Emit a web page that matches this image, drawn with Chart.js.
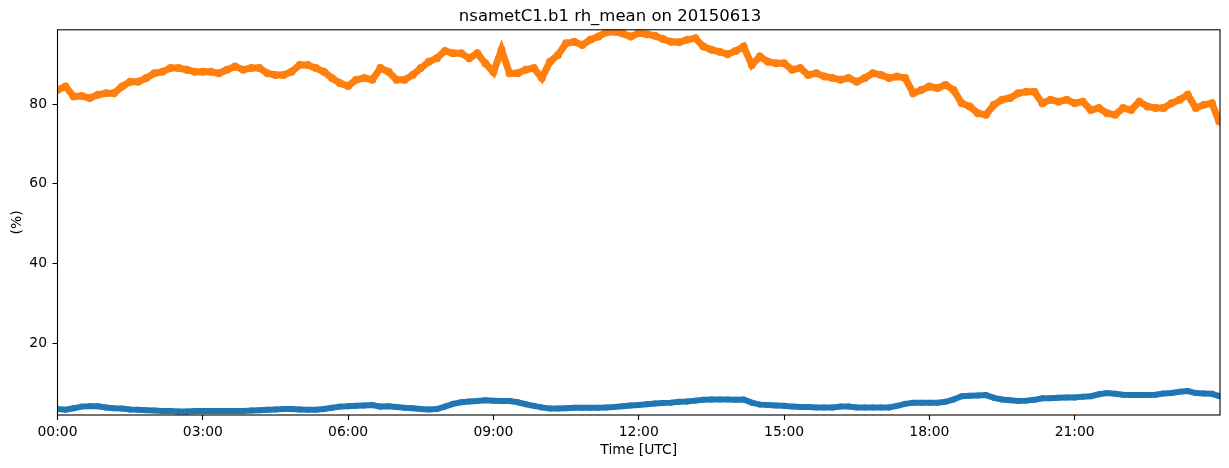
<!DOCTYPE html>
<html>
<head>
<meta charset="utf-8">
<script src="https://cdn.jsdelivr.net/npm/chart.js@4.4.1/dist/chart.umd.min.js"></script>
<style>
    body { margin: 0; background: #fff; }
    #wrap { width: 1229px; height: 468px; }
</style>
</head>
<body>
<div id="wrap"><canvas id="graficoRh"></canvas></div>
<script>
// rh_mean, one value every 10 minutes (last one at 23:59)
const rhOrange = [
    83.5, 84.4, 81.9, 82.0, 81.5, 82.3, 82.7, 82.7, 84.4, 85.6, 85.6, 86.5,
    87.7, 88.1, 89.0, 89.0, 88.6, 88.1, 88.1, 88.1, 87.7, 88.6, 89.4, 88.6,
    89.0, 89.0, 87.7, 87.3, 87.3, 88.1, 89.8, 89.8, 89.0, 88.1, 86.5, 85.2,
    84.5, 86.1, 86.5, 86.1, 89.0, 88.1, 86.1, 86.1, 87.3, 89.0, 90.6, 91.5,
    93.3, 92.7, 92.7, 91.5, 92.7, 90.2, 88.0, 93.6, 87.7, 87.7, 88.6, 89.0,
    86.5, 90.6, 92.3, 95.2, 95.6, 94.8, 96.1, 96.9, 98.0, 98.1, 97.7, 96.9,
    97.8, 97.5, 97.1, 96.3, 95.6, 95.5, 96.1, 96.5, 94.4, 93.6, 93.1, 92.5,
    93.3, 94.4, 89.8, 91.9, 90.6, 90.2, 90.2, 88.6, 89.0, 87.3, 87.7, 86.9,
    86.5, 86.1, 86.5, 85.6, 86.5, 87.7, 87.3, 86.5, 86.9, 86.5, 82.7, 83.5,
    84.4, 84.0, 84.8, 83.5, 80.2, 79.4, 77.7, 77.3, 79.8, 81.1, 81.5, 82.7,
    83.1, 83.1, 80.2, 81.1, 80.6, 81.1, 80.2, 80.6, 78.5, 79.0, 77.7, 77.3,
    79.0, 78.5, 80.6, 79.4, 79.0, 79.0, 80.2, 81.1, 82.3, 79.0, 79.8, 80.2,
    75.6
];
const rhBlue = [
    3.6, 3.4, 3.8, 4.2, 4.3, 4.3, 4.0, 3.8, 3.7, 3.5, 3.4, 3.3,
    3.2, 3.1, 3.1, 3.0, 3.0, 3.1, 3.1, 3.1, 3.1, 3.1, 3.1, 3.1,
    3.2, 3.3, 3.4, 3.5, 3.6, 3.6, 3.5, 3.4, 3.4, 3.6, 3.9, 4.2,
    4.3, 4.4, 4.5, 4.6, 4.2, 4.3, 4.1, 3.9, 3.8, 3.6, 3.5, 3.6,
    4.2, 4.9, 5.3, 5.5, 5.6, 5.8, 5.7, 5.6, 5.6, 5.3, 4.8, 4.4,
    4.0, 3.7, 3.7, 3.8, 3.9, 3.9, 3.9, 3.9, 4.0, 4.1, 4.3, 4.5,
    4.6, 4.8, 5.0, 5.1, 5.2, 5.4, 5.5, 5.7, 5.9, 6.0, 6.0, 6.0,
    5.9, 6.0, 5.2, 4.7, 4.6, 4.5, 4.4, 4.2, 4.1, 4.1, 4.0, 4.0,
    4.0, 4.2, 4.2, 4.0, 4.0, 4.0, 4.0, 4.0, 4.4, 4.9, 5.2, 5.2,
    5.2, 5.2, 5.4, 6.0, 6.8, 6.9, 7.0, 7.1, 6.4, 6.0, 5.8, 5.6,
    5.7, 5.9, 6.3, 6.3, 6.4, 6.5, 6.5, 6.7, 6.8, 7.3, 7.6, 7.4,
    7.2, 7.1, 7.1, 7.1, 7.2, 7.5, 7.6, 7.9, 8.1, 7.6, 7.5, 7.4,
    6.8
];
// minutes since 00:00
const minutos = rhOrange.map((_, i) => Math.min(i * 10, 1439));
const xTicks = [0, 180, 360, 540, 720, 900, 1080, 1260];
const yTicks = [20, 40, 60, 80];

function hhmm(m) {
    const h = Math.floor(m / 60), mm = m % 60;
    return String(h).padStart(2, '0') + ':' + String(mm).padStart(2, '0');
}

const fonte = 'DejaVu Sans';

// moldura preta dos quatro lados, como no matplotlib
const moldura = {
    id: 'moldura',
    afterDraw(chart) {
        const a = chart.chartArea, ctx = chart.ctx;
        ctx.save();
        ctx.strokeStyle = '#000';
        ctx.lineWidth = 1.1;
        ctx.strokeRect(a.left, a.top, a.right - a.left, a.bottom - a.top);
        ctx.restore();
    }
};

const ctx = document.getElementById('graficoRh').getContext('2d');
new Chart(ctx, {
    type: 'line',
    data: {
        datasets: [{
            label: 'rh_mean',
            data: minutos.map((m, i) => ({ x: m, y: rhBlue[i] })),
            borderColor: '#1f77b4',
            backgroundColor: '#1f77b4',
            borderWidth: 6,
            pointRadius: 3,
            pointBorderWidth: 0,
            tension: 0
        }, {
            label: 'rh_mean',
            data: minutos.map((m, i) => ({ x: m, y: rhOrange[i] })),
            borderColor: '#ff7f0e',
            backgroundColor: '#ff7f0e',
            borderWidth: 7,
            pointRadius: 4,
            pointBorderWidth: 0,
            tension: 0
        }]
    },
    options: {
        responsive: true,
        maintainAspectRatio: false,
        animation: false,
        layout: { padding: { left: 0, right: 9, top: 0, bottom: 0 } },
        plugins: {
            legend: { display: false },
            tooltip: { enabled: false },
            title: {
                display: true,
                text: 'nsametC1.b1 rh_mean on 20150613',
                color: '#000',
                font: { family: fonte, size: 16.5, weight: 'normal' },
                padding: { top: 7, bottom: 3 }
            }
        },
        scales: {
            x: {
                type: 'linear',
                min: 0,
                max: 1440,
                afterBuildTicks: s => { s.ticks = xTicks.map(v => ({ value: v })); },
                afterFit: s => { s.height = 53; },
                grid: { drawOnChartArea: false, drawTicks: true, tickLength: 5, tickColor: '#000', tickWidth: 1.1 },
                border: { display: false },
                ticks: {
                    color: '#000',
                    padding: 4,
                    maxRotation: 0,
                    font: { family: fonte, size: 13.9 },
                    callback: v => hhmm(v)
                },
                title: {
                    display: true,
                    text: 'Time [UTC]',
                    color: '#000',
                    font: { family: fonte, size: 13.9 },
                    padding: { top: 0, bottom: 9.5 }
                }
            },
            y: {
                min: 2.1,
                max: 98.6,
                afterBuildTicks: s => { s.ticks = yTicks.map(v => ({ value: v })); },
                afterFit: s => { s.width = 57.5; },
                grid: { drawOnChartArea: false, drawTicks: true, tickLength: 5, tickColor: '#000', tickWidth: 1.1 },
                border: { display: false },
                ticks: {
                    color: '#000',
                    padding: 5.5,
                    font: { family: fonte, size: 13.9 }
                },
                title: {
                    display: true,
                    text: '(%)',
                    color: '#000',
                    font: { family: fonte, size: 13.9 },
                    padding: { top: 9.5, bottom: 0 }
                }
            }
        }
    },
    plugins: [moldura]
});
</script>
</body>
</html>
